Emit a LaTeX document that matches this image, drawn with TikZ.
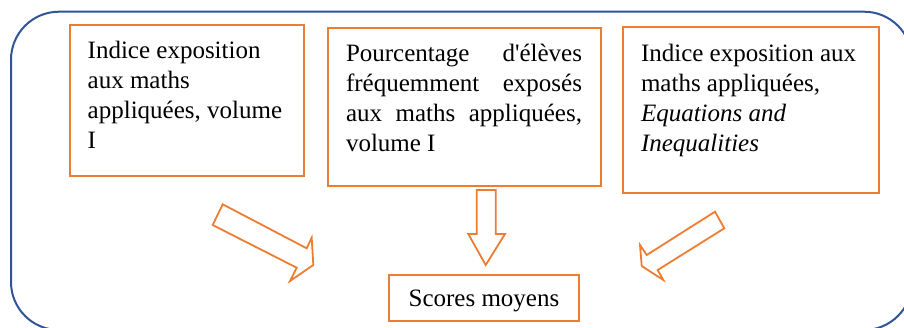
\documentclass[tikz,border=0pt]{standalone}
\usepackage{fontspec}
\setmainfont{Liberation Serif}
\definecolor{frameblue}{HTML}{2F5597}
\definecolor{boxorange}{HTML}{ED7D31}
\tikzset{
  obox/.style={draw=boxorange, line width=2pt, inner sep=0pt, fill=white},
  barrow/.style={draw=boxorange, line width=1.8pt, fill=white, line join=miter},
  outerframe/.style={draw=frameblue, line width=2pt, rounded corners=48pt}
}
% #1 width, #2 height, #3 left pad, #4 right pad, #5 first baseline, #6 text
\newcommand\boxtxt[6]{%
  \parbox[c][#2pt][t]{#1pt}{\fontsize{25}{30}\selectfont
    \leftskip=#3pt\rightskip=#4pt plus 1fil\parindent=0pt
    \parfillskip=0pt plus 1fil\rule{0pt}{#5pt}#6}}
\begin{document}
\begin{tikzpicture}[x=1pt,y=-1pt]
  \useasboundingbox (0,0) rectangle (904,327);
  \begin{scope}
    \clip (0,0) rectangle (904,327);
    \draw[outerframe] (11,11.7) rectangle (912,330);
  \end{scope}

  \node[obox, anchor=north west] (b1) at (69,24)
    {\boxtxt{234}{151}{17.7}{4}{33.3}{Indice exposition\\aux maths\\appliquées, volume\\I}};
  \node[obox, anchor=north west] (b2) at (327,27)
    {\boxtxt{273}{158}{18}{19}{33}{Pourcentage\hfill d\textquotesingle élèves\\fréquemment\hfill exposés\\aux\hfill maths\hfill appliquées,\\volume I}};
  \node[obox, anchor=north west] (b3) at (622,26)
    {\boxtxt{256}{166}{18}{4}{34}{Indice exposition aux\\maths appliquées,\\\textit{Equations and}\\\textit{Inequalities}}};
  \node[obox, anchor=north west] (b4) at (388,274)
    {\parbox[c][46pt][t]{190pt}{\fontsize{25}{30}\selectfont\centering\rule{0pt}{31pt}Scores moyens}};

  % block arrows
  \draw[barrow] (222.7,204.3) -- (306.7,248.3) -- (311.7,237.7) -- (313.3,265)
    -- (290,281) -- (296.7,267.7) -- (212.7,225) -- cycle;
  \draw[barrow] (476.7,190) -- (495.7,190) -- (495.7,234) -- (505,234)
    -- (485.7,265) -- (468.3,234) -- (476.7,234) -- cycle;
  \draw[barrow] (715,211.7) -- (724.3,228.3) -- (657.7,270) -- (663.3,280)
    -- (641.7,266) -- (640,245) -- (646.7,255) -- cycle;
\end{tikzpicture}
\end{document}
